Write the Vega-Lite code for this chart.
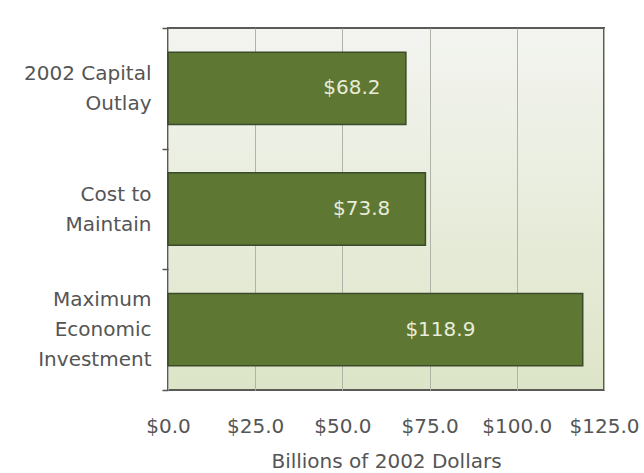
{
  "$schema": "https://vega.github.io/schema/vega-lite/v6.json",
  "width": 436,
  "height": 362,
  "padding": {"left": 23, "top": 18, "right": 6, "bottom": 1},
  "background": "#ffffff",
  "config": {
    "font": "DejaVu Sans",
    "view": {
      "stroke": "#5a5a5a",
      "strokeWidth": 2,
      "fill": {
        "gradient": "linear",
        "x1": 0, "y1": 0, "x2": 0, "y2": 1,
        "stops": [
          {"offset": 0, "color": "#f3f4f0"},
          {"offset": 1, "color": "#dde5c8"}
        ]
      }
    }
  },
  "data": {
    "values": [
      {"category": "2002 Capital\nOutlay", "value": 68.2},
      {"category": "Cost to\nMaintain", "value": 73.8},
      {"category": "Maximum\nEconomic\nInvestment", "value": 118.9}
    ]
  },
  "transform": [
    {"calculate": "datum.value / 2", "as": "mid"},
    {"calculate": "'$' + format(datum.value, '.1f')", "as": "label"}
  ],
  "encoding": {
    "y": {
      "field": "category",
      "type": "nominal",
      "sort": null,
      "scale": {"paddingInner": 0, "paddingOuter": 0},
      "axis": {
        "title": null,
        "labelExpr": "isValid(datum.value) ? split(datum.value, '\\n') : ''",
        "labelAlign": "right",
        "labelBaseline": "middle",
        "labelOffset": {
          "condition": {"test": "isValid(datum.value) && length(split(datum.value, '\\n')) == 3", "value": -30},
          "value": -15
        },
        "labelPadding": 11,
        "labelFontSize": 20,
        "labelColor": "#555555",
        "labelLineHeight": 30,
        "tickBand": "extent",
        "tickSize": 6,
        "tickColor": "#555555",
        "tickWidth": 1.5,
        "domain": false,
        "grid": false
      }
    }
  },
  "layer": [
    {
      "mark": {"type": "bar", "height": {"band": 0.6}, "color": "#5e7834", "stroke": "#3b4a2a", "strokeWidth": 1.5},
      "encoding": {
        "x": {
          "field": "value",
          "type": "quantitative",
          "scale": {"domain": [0, 125], "nice": false},
          "axis": {
            "title": "Billions of 2002 Dollars",
            "titleFontSize": 20,
            "titleFontWeight": "normal",
            "titleColor": "#555555",
            "titlePadding": 15,
            "values": [0, 25, 50, 75, 100, 125],
            "format": "$.1f",
            "labelFontSize": 20,
            "labelColor": "#555555",
            "labelPadding": 26,
            "labelOverlap": false,
            "labelFlush": false,
            "labelBound": false,
            "ticks": false,
            "domain": false,
            "grid": true,
            "gridColor": "#b0b4a8",
            "gridWidth": 1
          }
        }
      }
    },
    {
      "mark": {"type": "text", "color": "#e8ecd8", "fontSize": 20, "align": "center", "dx": 65},
      "encoding": {
        "x": {"field": "mid", "type": "quantitative"},
        "text": {"field": "label"}
      }
    }
  ]
}
